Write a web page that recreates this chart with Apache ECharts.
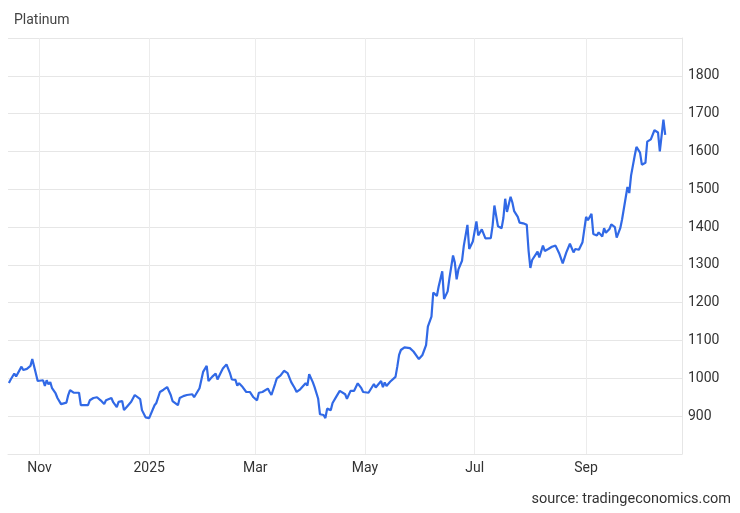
<!DOCTYPE html>
<html>
<head>
<meta charset="utf-8">
<script src="https://cdn.jsdelivr.net/npm/echarts@6/dist/echarts.min.js"></script>
<style>
html,body{margin:0;padding:0;background:#fff;}
#chart{width:740px;height:513px;}
</style>
</head>
<body>
<div id="chart"></div>
<script>
const dates = [
'2024-10-15','2024-10-16','2024-10-17','2024-10-18','2024-10-19','2024-10-22','2024-10-23','2024-10-25','2024-10-27','2024-10-28','2024-10-30','2024-10-31',
'2024-11-01','2024-11-03','2024-11-04','2024-11-05','2024-11-06','2024-11-07','2024-11-08','2024-11-10','2024-11-11','2024-11-13','2024-11-14','2024-11-16','2024-11-17','2024-11-18','2024-11-20','2024-11-23','2024-11-24','2024-11-25','2024-11-28','2024-11-29',
'2024-12-01','2024-12-03','2024-12-05','2024-12-07','2024-12-08','2024-12-11','2024-12-12','2024-12-14','2024-12-15','2024-12-17','2024-12-18','2024-12-20','2024-12-22','2024-12-24','2024-12-25','2024-12-27','2024-12-28','2024-12-30',
'2025-01-01','2025-01-02','2025-01-04','2025-01-05','2025-01-07','2025-01-09','2025-01-11','2025-01-13','2025-01-14','2025-01-15','2025-01-17','2025-01-18','2025-01-20','2025-01-22','2025-01-23','2025-01-25','2025-01-26','2025-01-27','2025-01-29','2025-01-31',
'2025-02-02','2025-02-03','2025-02-05','2025-02-07','2025-02-08','2025-02-10','2025-02-11','2025-02-13','2025-02-14','2025-02-15','2025-02-16','2025-02-18','2025-02-19','2025-02-20','2025-02-22','2025-02-23','2025-02-24','2025-02-26','2025-02-27','2025-02-28',
'2025-03-02','2025-03-03','2025-03-05','2025-03-06','2025-03-08','2025-03-09','2025-03-10','2025-03-12','2025-03-13','2025-03-15','2025-03-16','2025-03-17','2025-03-19','2025-03-20','2025-03-21','2025-03-23','2025-03-24','2025-03-26','2025-03-27','2025-03-29','2025-03-30','2025-03-31',
'2025-04-02','2025-04-03','2025-04-05','2025-04-06','2025-04-08','2025-04-09','2025-04-10','2025-04-12','2025-04-13','2025-04-15','2025-04-17','2025-04-18','2025-04-20','2025-04-21','2025-04-23','2025-04-25','2025-04-26','2025-04-27','2025-04-29','2025-04-30',
'2025-05-01','2025-05-03','2025-05-04','2025-05-06','2025-05-07','2025-05-08','2025-05-10','2025-05-11','2025-05-12','2025-05-13','2025-05-15','2025-05-16','2025-05-18','2025-05-19','2025-05-20','2025-05-21','2025-05-23','2025-05-24','2025-05-26','2025-05-28','2025-05-29','2025-05-31',
'2025-06-02','2025-06-03','2025-06-04','2025-06-05','2025-06-07','2025-06-08','2025-06-10','2025-06-11','2025-06-13','2025-06-14','2025-06-16','2025-06-17','2025-06-19','2025-06-20','2025-06-21','2025-06-22','2025-06-24','2025-06-25','2025-06-27','2025-06-28','2025-06-30',
'2025-07-01','2025-07-02','2025-07-03','2025-07-05','2025-07-07','2025-07-10','2025-07-11','2025-07-12','2025-07-14','2025-07-16','2025-07-17','2025-07-18','2025-07-19','2025-07-21','2025-07-22','2025-07-23','2025-07-25','2025-07-26','2025-07-28','2025-07-30','2025-07-31',
'2025-08-01','2025-08-02','2025-08-05','2025-08-06','2025-08-08','2025-08-09','2025-08-11','2025-08-13','2025-08-15','2025-08-17','2025-08-19','2025-08-21','2025-08-23','2025-08-25','2025-08-26','2025-08-28','2025-08-30','2025-08-31',
'2025-09-01','2025-09-02','2025-09-04','2025-09-05','2025-09-07','2025-09-08','2025-09-10','2025-09-11','2025-09-12','2025-09-14','2025-09-15','2025-09-17','2025-09-18','2025-09-20','2025-09-21','2025-09-22','2025-09-24','2025-09-25','2025-09-26','2025-09-28','2025-09-29',
'2025-10-01','2025-10-02','2025-10-04','2025-10-05','2025-10-07','2025-10-08','2025-10-09','2025-10-11','2025-10-12','2025-10-14','2025-10-15'
];
const prices = [
988,997,995,1013,1005,1031,1022,1025,1033,1051,1013,993,
990,995,980,995,984,990,974,960,948,932,937,936,956,969,962,962,929,927,929,942,
948,950,942,932,942,948,937,924,938,940,916,927,938,956,958,945,916,897,
895,900,929,935,964,970,977,956,940,937,929,948,953,956,951,958,950,948,974,1017,
1033,993,1004,1013,997,1017,1026,1037,1037,1013,997,996,981,987,977,981,964,964,969,950,
942,962,964,969,973,964,956,985,1000,1007,1010,1020,1014,1010,990,974,964,971,968,987,981,1011,
990,977,946,905,903,895,920,916,935,951,967,964,958,946,967,967,969,987,974,964,
969,962,960,985,976,976,993,977,989,980,991,987,1004,1031,1062,1075,1082,1086,1080,1071,1074,1051,
1062,1075,1088,1137,1163,1227,1218,1243,1283,1210,1230,1265,1325,1306,1262,1288,1311,1351,1406,1342,1362,
1362,1415,1378,1394,1370,1371,1404,1457,1402,1397,1424,1475,1440,1480,1465,1442,1427,1412,1410,1406,1338,
1292,1313,1335,1320,1351,1337,1342,1348,1351,1331,1304,1333,1356,1333,1342,1340,1360,1364,
1427,1418,1435,1382,1378,1386,1375,1397,1385,1395,1407,1400,1372,1397,1420,1425,1506,1490,1536,1588,1612,
1597,1565,1570,1626,1632,1637,1656,1650,1600,1684,1644
];
const monthTicks = ['2024-11-01','2025-01-01','2025-03-01','2025-05-01','2025-07-01','2025-09-01'];
const monthLabels = ['Nov','2025','Mar','May','Jul','Sep'];
const yTicks = [900,1000,1100,1200,1300,1400,1500,1600,1700,1800];
const titleText = 'Platinum';
const sourceText = 'source: tradingeconomics.com';

const toTime = d => +new Date(d + 'T00:00:00Z');
const tickTimes = monthTicks.map(toTime);
const labelMap = {};
tickTimes.forEach((t, i) => { labelMap[t] = monthLabels[i]; });
const seriesData = dates.map((d, i) => [toTime(d), prices[i]]);

const chart = echarts.init(document.getElementById('chart'), null, {renderer: 'canvas'});
const font = 'Roboto, "Liberation Sans", Arial, sans-serif';
chart.setOption({
  animation: false,
  backgroundColor: '#ffffff',
  title: [{
    text: titleText, left: 14, top: 13, padding: 0,
    textStyle: {fontSize: 14, fontWeight: 'normal', color: '#444', fontFamily: font}
  }, {
    text: sourceText, right: 9, top: 492, padding: 0,
    textStyle: {fontSize: 14.5, fontWeight: 'normal', color: '#333', fontFamily: font}
  }],
  grid: {left: 8, right: 58, top: 38, bottom: 59, containLabel: false},
  xAxis: {
    type: 'value',
    min: +new Date('2024-10-14T12:00:00Z'),
    max: +new Date('2025-10-24T08:00:00Z'),
    axisLine: {show: true, lineStyle: {color: '#e6e6e6', width: 1}},
    axisTick: {show: false, customValues: tickTimes},
    axisLabel: {
      customValues: tickTimes,
      formatter: v => labelMap[v] || '',
      color: '#333', fontSize: 14, fontFamily: font, margin: 7
    },
    splitLine: {show: true, lineStyle: {color: '#ececec', width: 1}}
  },
  yAxis: {
    type: 'value', position: 'right',
    min: 800, max: 1900, interval: 100,
    axisLine: {show: true, lineStyle: {color: '#e6e6e6', width: 1}},
    axisTick: {show: false},
    axisLabel: {
      color: '#333', fontSize: 14, fontFamily: font, margin: 6,
      formatter: v => yTicks.indexOf(v) >= 0 ? String(v) : ''
    },
    splitLine: {show: true, lineStyle: {color: '#e6e6e6', width: 1}}
  },
  series: [{
    type: 'line', data: seriesData, showSymbol: false, symbol: 'none',
    lineStyle: {color: '#3169e6', width: 2.2},
    z: 5
  }]
});
</script>
</body>
</html>
